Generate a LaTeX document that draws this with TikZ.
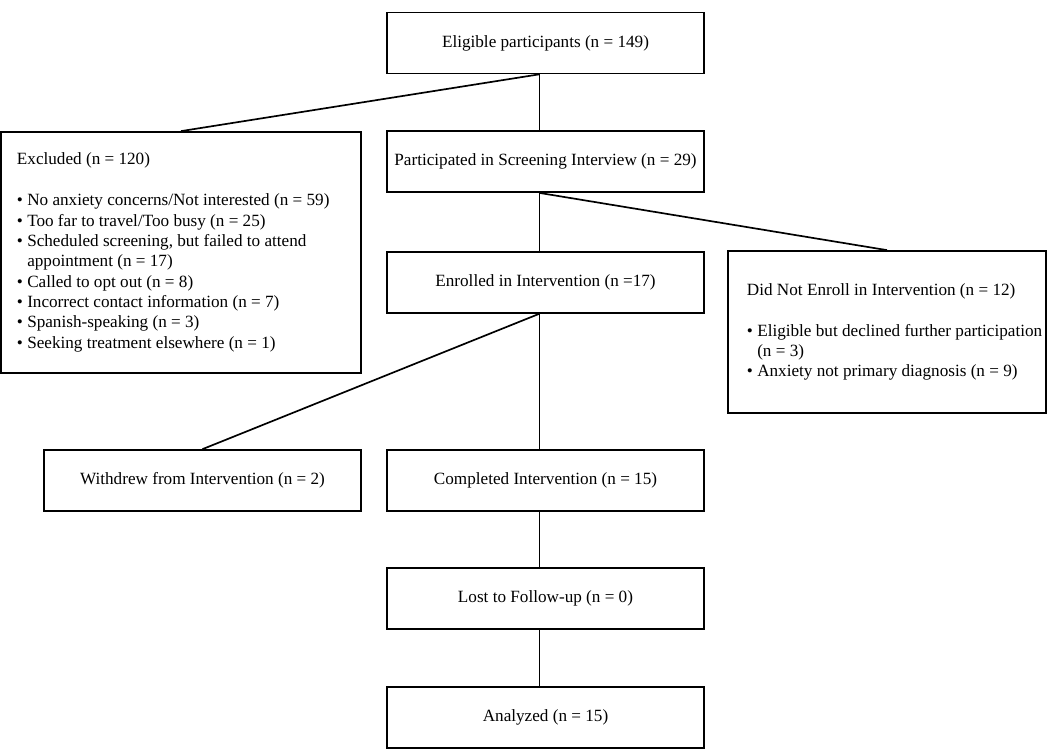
\documentclass[tikz,border=0pt]{standalone}
\usepackage{fontspec}
\setmainfont{Liberation Serif}
\usetikzlibrary{calc}

\begin{document}
\begin{tikzpicture}[x=0.025cm,y=-0.025cm,
	box/.style={draw,line width=1.2pt,minimum width=7.925cm,minimum height=1.525cm,inner sep=0pt,font=\fontsize{12.2}{14.5}\selectfont},
	listbox/.style={box,align=left,inner xsep=0.42cm},
	link/.style={line width=0.7pt}]
	\useasboundingbox (0,0) rectangle (1050,749);
	\def\cx{545.5}		%x of the central column
	\def\off{-0.16cm}	%connectors run a little left of the box centres
	\def\bline#1{\mbox{\spaceskip=0pt\xspaceskip=0pt #1}}	%one line, font's own spaces
	\def\bitem#1{\bline{\textbullet\ #1}}	%one line of a list
	\def\bcont#1{\bline{\hphantom{\textbullet\ }#1}}	%its second line
	
	\node[box] (elig) at (\cx,43) {Eligible participants (n = 149)};
	\node[box] (screen) at (\cx,161.5) {Participated in Screening Interview (n = 29)};
	\node[box] (enrol) at (\cx,282.5) {Enrolled in Intervention (n =17)};
	\node[box] (complete) at (\cx,480.5) {Completed Intervention (n = 15)};
	\node[box] (lost) at (\cx,598.5) {Lost to Follow-up (n = 0)};
	\node[box] (anal) at (\cx,717.5) {Analyzed (n = 15)};
	\node[box] (withdrew) at (202.5,480.5) {Withdrew from Intervention (n = 2)};
	
	\node[listbox,minimum width=9cm,text width=8.2cm,inner xsep=0.4cm,minimum height=6.025cm] (excl) at (181,252.5) {%
		\bline{Excluded (n = 120)}\\[14.5pt]
		\bitem{No anxiety concerns/Not interested (n = 59)}\\
		\bitem{Too far to travel/Too busy (n = 25)}\\
		\bitem{Scheduled screening, but failed to attend}\\
		\bcont{appointment (n = 17)}\\
		\bitem{Called to opt out (n = 8)}\\
		\bitem{Incorrect contact information (n = 7)}\\
		\bitem{Spanish-speaking (n = 3)}\\
		\bitem{Seeking treatment elsewhere (n = 1)}\\[13pt]};
	\node[listbox,minimum width=7.95cm,text width=7.0cm,inner xsep=0.475cm,minimum height=4.05cm] (noenrol) at (887,332) {%
		\bline{Did Not Enroll in Intervention (n = 12)}\\[14.5pt]
		\bitem{Eligible but declined further participation}\\
		\bcont{(n = 3)}\\
		\bitem{Anxiety not primary diagnosis (n = 9)}\\[24pt]};
	
	\foreach \a/\b in {elig/screen,screen/enrol,enrol/complete,complete/lost,lost/anal}{
		\draw[link] ([xshift=\off]\a.south) -- ([xshift=\off]\b.north);	%main column
	}
	\draw[link,line width=1.2pt] ([xshift=\off]elig.south) -- (excl.north);		%to excluded
	\draw[link,line width=1.2pt] ([xshift=\off]screen.south) -- (noenrol.north);	%to not enrolled
	\draw[link,line width=1.2pt] ([xshift=\off]enrol.south) -- (withdrew.north);	%to withdrew
\end{tikzpicture}
\end{document}
